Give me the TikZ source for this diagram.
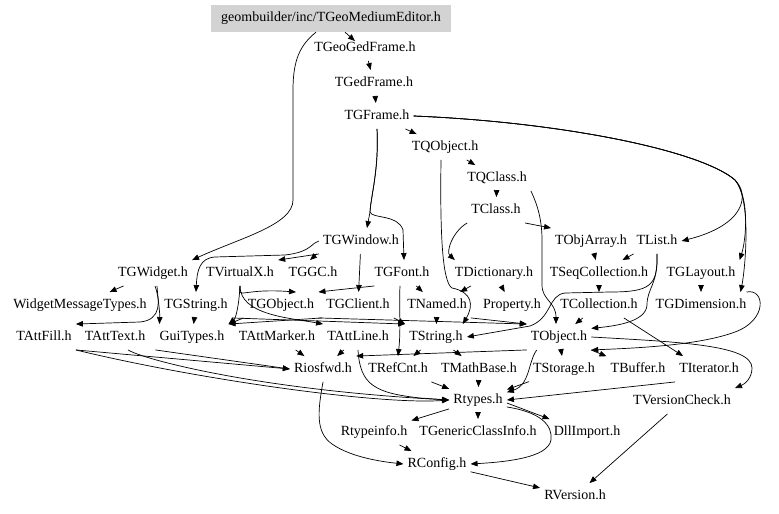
\documentclass[tikz,border=0pt]{standalone}
\usepackage{fontspec}
\setmainfont{Liberation Serif}
\usetikzlibrary{arrows.meta,calc}
\definecolor{boxgray}{RGB}{211,211,211}
\begin{document}
\begin{tikzpicture}[x=1bp,y=-1bp,
  lbl/.style={inner xsep=4bp, inner ysep=6.5bp, text height=9.5bp, text depth=3bp, font=\fontsize{14bp}{16bp}\selectfont},
  e/.style={line width=0.7bp, -{Triangle[length=7bp,width=5.5bp]}}]
\useasboundingbox (0,0) rectangle (779,514);
% nodes
\node[lbl, fill=boxgray, minimum width=240bp, minimum height=27bp, inner ysep=0bp] (ed) at (331,18.5) {geombuilder/inc/TGeoMediumEditor.h};
\node[lbl] (geo) at (365,48) {TGeoGedFrame.h};
\node[lbl] (ged) at (374,83) {TGedFrame.h};
\node[lbl] (gfr) at (377,116) {TGFrame.h};
\node[lbl] (qob) at (445,147) {TQObject.h};
\node[lbl] (qcl) at (497,178) {TQClass.h};
\node[lbl] (cls) at (496,210) {TClass.h};
\node[lbl] (win) at (361,241) {TGWindow.h};
\node[lbl] (oba) at (591,241) {TObjArray.h};
\node[lbl] (lst) at (657,241) {TList.h};
\node[lbl] (wid) at (153,273) {TGWidget.h};
\node[lbl] (vx) at (240,273) {TVirtualX.h};
\node[lbl] (gc) at (313,273) {TGGC.h};
\node[lbl] (fnt) at (402,273) {TGFont.h};
\node[lbl] (dic) at (494,273) {TDictionary.h};
\node[lbl] (seq) at (599,273) {TSeqCollection.h};
\node[lbl] (lay) at (701,273) {TGLayout.h};
\node[lbl] (wmt) at (80,305) {WidgetMessageTypes.h};
\node[lbl] (gstr) at (196,305) {TGString.h};
\node[lbl] (gob) at (281,305) {TGObject.h};
\node[lbl] (gcl) at (358,305) {TGClient.h};
\node[lbl] (nam) at (437,305) {TNamed.h};
\node[lbl] (prp) at (512,305) {Property.h};
\node[lbl] (col) at (599,305) {TCollection.h};
\node[lbl] (dim) at (701,305) {TGDimension.h};
\node[lbl] (afl) at (44,337) {TAttFill.h};
\node[lbl] (atx) at (115,337) {TAttText.h};
\node[lbl] (gui) at (192,337) {GuiTypes.h};
\node[lbl] (amk) at (277,337) {TAttMarker.h};
\node[lbl] (aln) at (358,337) {TAttLine.h};
\node[lbl] (str) at (436,337) {TString.h};
\node[lbl] (obj) at (559,337) {TObject.h};
\node[lbl] (rio) at (323,369) {Riosfwd.h};
\node[lbl] (ref) at (398,369) {TRefCnt.h};
\node[lbl] (mth) at (479,369) {TMathBase.h};
\node[lbl] (sto) at (564,369) {TStorage.h};
\node[lbl] (buf) at (638,369) {TBuffer.h};
\node[lbl] (itr) at (709,369) {TIterator.h};
\node[lbl] (rty) at (478,400) {Rtypes.h};
\node[lbl] (ver) at (682,401) {TVersionCheck.h};
\node[lbl] (rti) at (374,432) {Rtypeinfo.h};
\node[lbl] (gci) at (478,432) {TGenericClassInfo.h};
\node[lbl] (dll) at (587,432) {DllImport.h};
\node[lbl] (rcf) at (437,464) {RConfig.h};
\node[lbl] (rvr) at (575,496) {RVersion.h};
% top edges
\draw[e] ($(ed.south)+(14,0)$) -- ($(geo.north)+(-10,6)$);
\draw[e] ($(ed.south)+(-15,0)$) .. controls (300,45) and (293,60) .. (293,90) -- (293,200) .. controls (293,225) and (240,238) .. (wid.north east);
\draw[e] (geo) -- (ged);
\draw[e] (ged) -- (gfr);
\draw[e] (gfr) -- (qob);
\draw[e] (gfr.south) .. controls (379,170) and (371,195) .. (370,212) -- ($(win.north)+(6,0)$);
\draw[e] (gfr.south) .. controls (379,170) and (371,195) .. (370,212) .. controls (372,219) and (398,214) .. (403,230) -- ($(fnt.north)+(2,0)$);
\draw[e] (gfr.east) .. controls (560,122) and (700,150) .. (735,180) .. controls (750,195) and (745,225) .. (lst.east);
\draw[e] (gfr.east) .. controls (560,122) and (700,150) .. (735,180) .. controls (750,198) and (746,240) .. (lay.north east);
\draw[e] (gfr.east) .. controls (560,122) and (700,150) .. (735,180) .. controls (752,200) and (745,270) .. ($(dim.north east)+(-10,0)$);
\draw[e] (qob) -- (qcl);
\draw[e] ($(qob.south)+(-4,0)$) .. controls (440,230) and (442,282) .. (452,288) .. controls (472,292) and (474,305) .. ($(str.north east)+(-4,0)$);
\draw[e] (qcl) -- (cls);
\draw[e] (qcl.south east) .. controls (535,200) and (542,215) .. (542,240) -- (542,285) .. controls (542,300) and (556,302) .. ($(obj.north)+(-3,0)$);
\draw[e] (cls.south east) -- (oba.north west);
\draw[e] (cls.south west) .. controls (452,232) and (446,252) .. ($(dic.north west)+(4,0)$);
\draw[e] (oba) -- (seq);
\draw[e] (lst) -- (seq);
\draw[e] (lst.south) .. controls (658,285) and (647,288) .. (647,305) .. controls (646,322) and (615,326) .. (obj.15);
\draw[e] (lst.south) .. controls (658,286) and (650,292) .. (610,292) -- (565,293) .. controls (548,295) and (552,318) .. (530,326) -- (str.east);
\draw[e] (seq) -- (col);
\draw[e] (col) -- (obj);
\draw[e] ($(col.south east)+(-18,0)$) -- ($(itr.north west)+(8,0)$);
\draw[e] (lay) -- (dim);
\draw[e] ($(dim.north east)+(-4,0)$) .. controls (765,288) and (768,320) .. (735,332) .. controls (700,345) and (640,348) .. (obj.south east);
% left cluster
\draw[e] (win.south west) -- (vx.north east);
\draw[e] ($(win.south west)+(-2,0)$) -- ($(gc.north)+(-3,0)$);
\draw[e] (win.west) .. controls (312,242) and (312,252) .. (285,255) -- (215,257) .. controls (200,258) and (197,270) .. (gstr.north);
\draw[e] (win) -- (gcl);
\draw[e] ($(fnt.south west)+(4,0)$) .. controls (365,287) and (345,289) .. (gob.north east);
\draw[e] (fnt) -- (nam);
\draw[e] ($(fnt.south)+(-2,0)$) .. controls (399,305) and (401,330) .. (ref.north);
\draw[e] (vx.south) .. controls (238,300) and (242,288) .. ($(gob.north)+(15,0)$);
\draw[e] (vx.south) .. controls (239,305) and (236,318) .. (gui.north east);
\draw[e] (vx.south) .. controls (240,315) and (290,318) .. (aln.north west);
\draw[e] (wid) -- (wmt);
\draw[e] ($(wid.south)+(2,0)$) .. controls (160,300) and (162,320) .. (140,322) -- (afl.north east);
\draw[e] ($(wid.south)+(4,0)$) .. controls (158,300) and (160,312) .. ($(gui.north west)+(4,0)$);
\draw[e] (gstr) -- (gui);
\draw[e] (gstr.south east) -- (str.north west);
\draw[e] (gob.south west) -- (gui.north east);
\draw[e] (gob.south east) -- (obj.north west);
\draw[e] (gcl.south west) -- (gui.north east);
\draw[e] (gcl.south east) -- (str.north west);
\draw[e] (nam) -- (str);
\draw[e] (nam.south east) -- (obj.north west);
\draw[e] (dic) -- (nam);
\draw[e] (dic) -- (prp);
% lower part
\draw[e] (afl.south east) -- (rio.west);
\draw[e] (afl.south east) .. controls (200,380) and (380,405) .. (rty.west);
\draw[e] ($(atx.south)+(13,0)$) .. controls (145,360) and (260,390) .. (rty.west);
\draw[e] (gui.south west) -- (rio.west);
\draw[e] (amk) -- (rio);
\draw[e] (aln) -- (rio);
\draw[e] (aln.south) .. controls (360,385) and (375,393) .. (420,398) -- (rty.west);
\draw[e] (obj.south west) -- (rio.north east);
\draw[e] (str) -- (ref);
\draw[e] (str) -- (mth);
\draw[e] (ref) -- (rty);
\draw[e] (mth) -- (rty);
\draw[e] ($(obj.south west)+(10,0)$) .. controls (528,362) and (530,385) .. (rty.15);
\draw[e] (sto) -- (rty);
\draw[e] (obj) -- (sto);
\draw[e] (obj) -- (buf);
\draw[e] (obj.east) .. controls (680,342) and (752,345) .. (752,368) .. controls (752,378) and (745,384) .. (ver.north east);
\draw[e] (itr.south west) -- (rty.east);
\draw[e] (rty) -- (rti);
\draw[e] (rty) -- (gci);
\draw[e] ($(rty.east)+(0,3)$) -- (dll.north west);
\draw[e] ($(rty.east)+(0,7)$) .. controls (540,412) and (553,425) .. (551,440) .. controls (548,458) and (505,462) .. (rcf.east);
\draw[e] (rti) -- (rcf);
\draw[e] (rio.south) .. controls (318,410) and (315,432) .. (332,444) .. controls (352,458) and (385,462) .. (rcf.west);
\draw[e] (rcf) -- (rvr);
\draw[e] (ver) -- (rvr);
\end{tikzpicture}
\end{document}
